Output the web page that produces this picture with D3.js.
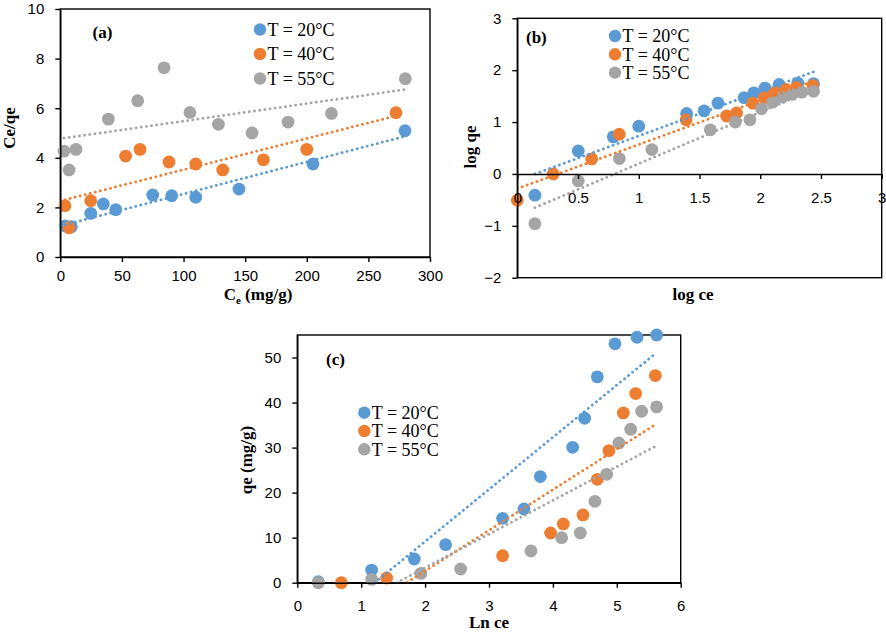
<!DOCTYPE html>
<html><head><meta charset="utf-8">
<script src="https://cdn.jsdelivr.net/npm/d3@7"></script>
<style>body{margin:0;background:#fff}</style>
</head><body>
<svg id="chart" width="886" height="634"></svg>
<script>
// ---------- DATA ----------
const seriesLabels = ["T = 20°C", "T = 40°C", "T = 55°C"];
const seriesColors = ["#5B9BD5", "#ED7D31", "#A5A5A5"];

// Panel (a): Ce/qe vs Ce
const a_T20 = [[4,1.25],[9,1.22],[24.7,1.76],[34.9,2.14],[45,1.91],[75,2.5],[90.4,2.47],[109.9,2.41],[145,2.74],[205,3.75],[279.7,5.09]];
const a_T40 = [[3.8,2.07],[7.1,1.18],[24.7,2.27],[53,4.07],[64.7,4.34],[88.2,3.83],[109.9,3.75],[131.8,3.51],[164.8,3.92],[200,4.34],[272.4,5.82]];
const a_T55 = [[3,4.27],[7.1,3.51],[12.7,4.34],[39,5.56],[62.8,6.3],[84.2,7.63],[105.2,5.83],[128.3,5.35],[155.6,5.0],[184.8,5.44],[220,5.79],[280,7.19]];
const a_trend = [[0.01293,1.25],[0.01259,2.26],[0.00709,4.77]]; // [slope, intercept]
const a_xTicks = [0,50,100,150,200,250,300];
const a_yTicks = [0,2,4,6,8,10];

// Panel (b): log qe vs log ce
const b_T20 = [[0.145,-0.41],[0.502,0.444],[0.79,0.714],[1.0,0.92],[1.394,1.166],[1.538,1.216],[1.652,1.365],[1.867,1.47],[1.948,1.564],[2.039,1.655],[2.155,1.725],[2.31,1.752],[2.439,1.74]];
const b_T40 = [[0,-0.508],[0.296,0],[0.612,0.29],[0.84,0.766],[1.39,1.043],[1.723,1.117],[1.805,1.175],[1.94,1.365],[2.034,1.467],[2.118,1.57],[2.213,1.628],[2.297,1.667],[2.434,1.7]];
const b_T55 = [[0.145,-0.959],[0.502,-0.135],[0.84,0.296],[1.108,0.47],[1.589,0.85],[1.795,1.0],[1.915,1.043],[2.011,1.255],[2.101,1.38],[2.18,1.48],[2.262,1.532],[2.343,1.577],[2.439,1.593]];
const b_trend = [[0.8576,-0.124],[0.851,-0.283],[0.992,-0.794]];
const b_xTicks = [0,0.5,1,1.5,2,2.5,3];
const b_yTicks = [-2,-1,0,1,2,3];

// Panel (c): qe vs Ln ce
const c_T20 = [[0.329,0.22],[1.163,2.81],[1.831,5.26],[2.321,8.44],[3.213,14.3],[3.547,16.37],[3.803,23.56],[4.309,30.07],[4.497,36.52],[4.695,45.7],[4.971,53.04],[5.316,54.5],[5.623,55.0]];
const c_T40 = [[0.689,0],[1.398,1.04],[3.213,6],[3.964,11.04],[4.163,13.04],[4.471,15.04],[4.695,22.96],[4.877,29.33],[5.102,37.7],[5.295,42],[5.603,46]];
const c_T55 = [[0.329,0],[1.163,0.74],[1.935,2.07],[2.556,3.04],[3.657,7.04],[4.137,10],[4.429,11.04],[4.658,18.07],[4.841,24.07],[5.034,31.04],[5.217,34.07],[5.389,38.07],[5.623,39.04]];
const c_trend = [[11.58,-14.02],[9.02,-15.43],[7.48,-11.64]];
const c_xTicks = [0,1,2,3,4,5,6];
const c_yTicks = [0,10,20,30,40,50];

// ---------- DRAW ----------
const svg = d3.select("#chart");
const TICKFONT = "'Liberation Sans', Arial, sans-serif";
const SERIF = "'Liberation Serif', 'Times New Roman', serif";
let clipId = 0;

function drawPanel(p) {
  const x = d3.scaleLinear().domain(p.xDomain).range(p.xRange);
  const y = d3.scaleLinear().domain(p.yDomain).range(p.yRange);
  const g = svg.append("g");
  const id = "clip" + (clipId++);
  g.append("clipPath").attr("id", id).append("rect")
    .attr("x", p.xRange[0]).attr("y", p.yRange[1])
    .attr("width", p.xRange[1] - p.xRange[0]).attr("height", p.yRange[0] - p.yRange[1]);

  // frame
  g.append("rect").attr("x", p.xRange[0]).attr("y", p.yRange[1])
    .attr("width", p.xRange[1] - p.xRange[0]).attr("height", p.yRange[0] - p.yRange[1])
    .attr("fill", "none").attr("stroke", "#000").attr("stroke-width", 1.4);

  // markers
  p.series.forEach((data, i) => {
    g.append("g").selectAll("circle").data(data).join("circle")
      .attr("cx", d => x(d[0])).attr("cy", d => y(d[1])).attr("r", 6.4)
      .attr("fill", seriesColors[i]);
  });
  // trendlines
  const tg = g.append("g").attr("clip-path", `url(#${id})`);
  p.series.forEach((data, i) => {
    const ext = d3.extent(data, d => d[0]);
    const [m, b] = p.trend[i];
    tg.append("line")
      .attr("x1", x(ext[0])).attr("y1", y(m * ext[0] + b))
      .attr("x2", x(ext[1])).attr("y2", y(m * ext[1] + b))
      .attr("stroke", seriesColors[i]).attr("stroke-width", 2.8)
      .attr("stroke-linecap", "round").attr("stroke-dasharray", "0.1 5.1");
  });

  // axes
  const xAxis = d3.axisBottom(x).tickValues(p.xTicks).tickSize(5).tickSizeOuter(0)
    .tickPadding(p.xPad).tickFormat(d3.format("~g"));
  const yAxis = d3.axisLeft(y).tickValues(p.yTicks).tickSize(5).tickSizeOuter(0)
    .tickPadding(p.yPad).tickFormat(d3.format("~g"));
  const ax = g.append("g").attr("transform", `translate(0,${y(p.xAxisAt)})`).call(xAxis);
  const ay = g.append("g").attr("transform", `translate(${p.xRange[0]},0)`).call(yAxis);
  [ax, ay].forEach(a => {
    a.select(".domain").attr("stroke", "#000").attr("stroke-width", 1.4);
    a.selectAll(".tick line").attr("stroke", "#000").attr("stroke-width", 1.4);
    a.selectAll("text").attr("font-family", TICKFONT).attr("font-size", 15).attr("fill", "#000");
  });

  // panel label
  g.append("text").attr("x", p.label[1]).attr("y", p.label[2]).text(p.label[0])
    .attr("font-family", SERIF).attr("font-weight", "bold").attr("font-size", 17);

  // legend
  seriesLabels.forEach((lab, i) => {
    const ly = p.legend[1] + i * p.legend[2];
    g.append("circle").attr("cx", p.legend[0]).attr("cy", ly).attr("r", 6.2).attr("fill", seriesColors[i]);
    g.append("text").attr("x", p.legend[0] + 7.5).attr("y", ly + 6.2).text(lab)
      .attr("font-family", SERIF).attr("font-size", 18).attr("fill", "#000");
  });

  // axis titles
  const xt = g.append("text").attr("x", p.xTitle[1]).attr("y", p.xTitle[2])
    .attr("text-anchor", "middle").attr("font-family", SERIF).attr("font-weight", "bold").attr("font-size", 17);
  if (p.xTitleSub) {
    xt.append("tspan").text("C");
    xt.append("tspan").text("e").attr("font-size", 11).attr("dy", 4);
    xt.append("tspan").text(" (mg/g)").attr("dy", -4);
  } else xt.text(p.xTitle[0]);
  g.append("text").attr("transform", `translate(${p.yTitle[1]},${p.yTitle[2]}) rotate(-90)`)
    .attr("text-anchor", "middle").attr("font-family", SERIF).attr("font-weight", "bold").attr("font-size", 17)
    .text(p.yTitle[0]);
}

drawPanel({
  xDomain: [0, 300], yDomain: [0, 10], xRange: [60.3, 430], yRange: [257, 9],
  series: [a_T20, a_T40, a_T55], trend: a_trend, xTicks: a_xTicks, yTicks: a_yTicks,
  xAxisAt: 0, xPad: 8, yPad: 11,
  label: ["(a)", 92.5, 38], legend: [260, 29.5, 24.5],
  xTitle: ["Ce (mg/g)", 258, 300], xTitleSub: true, yTitle: ["Ce/qe", 15, 128]
});
drawPanel({
  xDomain: [0, 3], yDomain: [-2, 3], xRange: [517.3, 881.7], yRange: [277.7, 18.3],
  series: [b_T20, b_T40, b_T55], trend: b_trend, xTicks: b_xTicks, yTicks: b_yTicks,
  xAxisAt: 0, xPad: 13, yPad: 11,
  label: ["(b)", 526, 42.5], legend: [615, 36, 18.3],
  xTitle: ["log ce", 693, 300], yTitle: ["log qe", 476, 147]
});
drawPanel({
  xDomain: [0, 6], yDomain: [0, 55], xRange: [297.3, 680.7], yRange: [582.7, 335],
  series: [c_T20, c_T40, c_T55], trend: c_trend, xTicks: c_xTicks, yTicks: c_yTicks,
  xAxisAt: 0, xPad: 13, yPad: 11,
  label: ["(c)", 326, 365], legend: [364.3, 412.7, 18.3],
  xTitle: ["Ln ce", 489, 628], yTitle: ["qe (mg/g)", 252, 460]
});
</script>
</body></html>
